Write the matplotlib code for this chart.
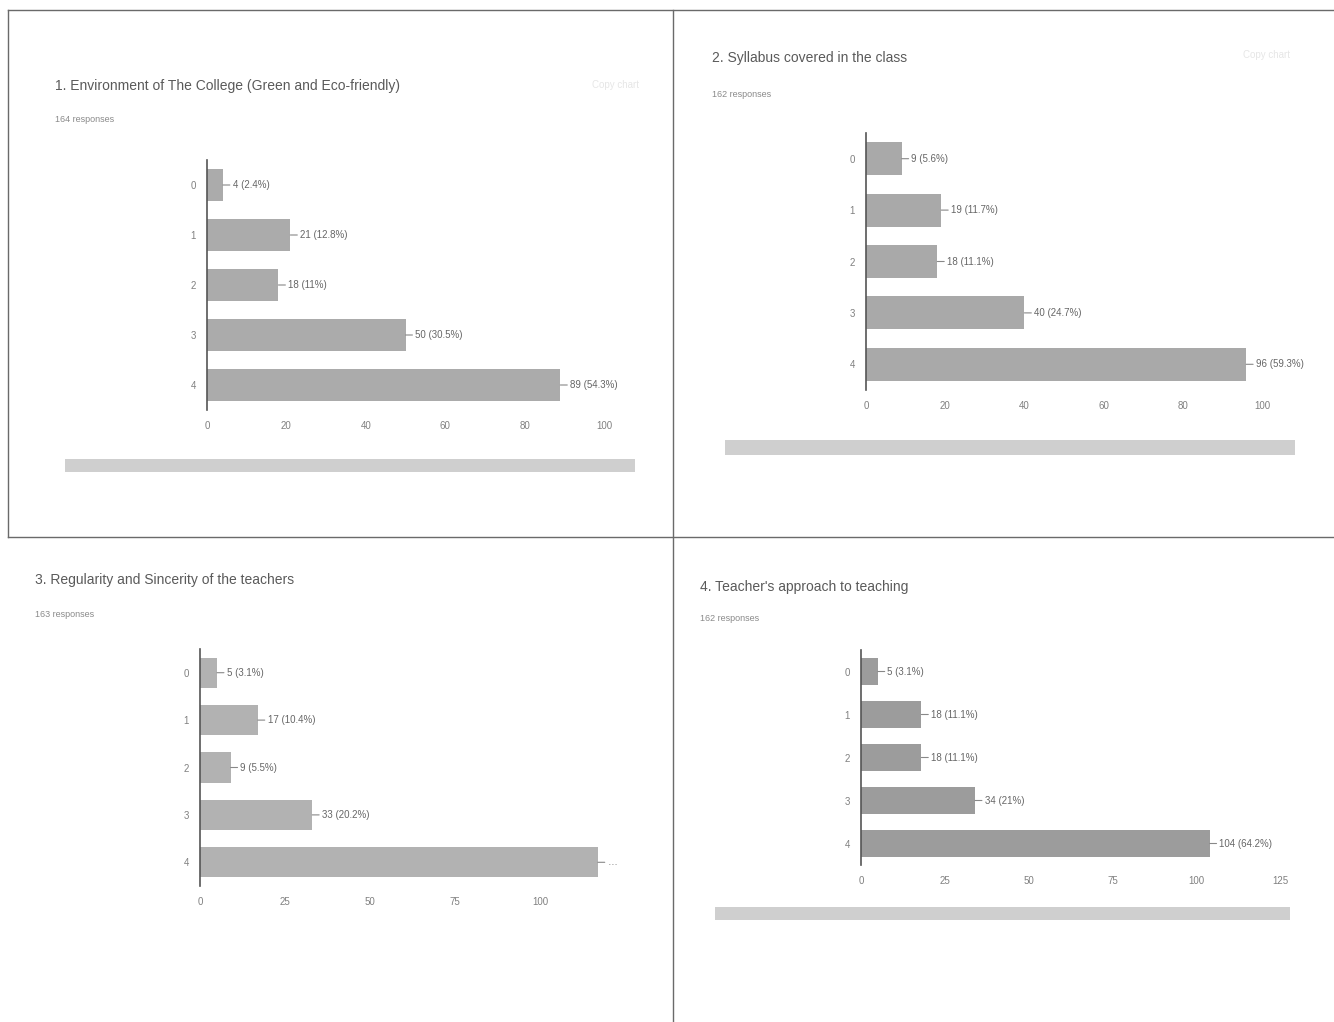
import numpy as np
import matplotlib
matplotlib.use("Agg")
import matplotlib.pyplot as plt
from matplotlib.lines import Line2D
from matplotlib.patches import Rectangle

plt.rcParams["font.family"] = ["Liberation Sans", "DejaVu Sans"]

W, H = 1334, 1022

# data
categories = ["0", "1", "2", "3", "4"]

titles = [
    "1. Environment of The College (Green and Eco-friendly)",
    "2. Syllabus covered in the class",
    "3. Regularity and Sincerity of the teachers",
    "4. Teacher's approach to teaching",
]
responses = ["164 responses", "162 responses", "163 responses", "162 responses"]

counts_1 = [4, 21, 18, 50, 89]
labels_1 = ["4 (2.4%)", "21 (12.8%)", "18 (11%)", "50 (30.5%)", "89 (54.3%)"]

counts_2 = [9, 19, 18, 40, 96]
labels_2 = ["9 (5.6%)", "19 (11.7%)", "18 (11.1%)", "40 (24.7%)", "96 (59.3%)"]

counts_3 = [5, 17, 9, 33, 117]
labels_3 = ["5 (3.1%)", "17 (10.4%)", "9 (5.5%)", "33 (20.2%)", ""]

counts_4 = [5, 18, 18, 34, 104]
labels_4 = ["5 (3.1%)", "18 (11.1%)", "18 (11.1%)", "34 (21%)", "104 (64.2%)"]

ticks_1 = [0, 20, 40, 60, 80, 100]
ticks_2 = [0, 20, 40, 60, 80, 100]
ticks_3 = [0, 25, 50, 75, 100]
ticks_4 = [0, 25, 50, 75, 100, 125]


def px_rect(x0, y0, x1, y1):
    # pixel box (top-left origin) -> figure fraction rect
    return [x0 / W, 1 - y1 / H, (x1 - x0) / W, (y1 - y0) / H]


fig = plt.figure(figsize=(W / 100, H / 100), dpi=100)
fig.patch.set_facecolor("white")

# panel frame lines of the scanned page
frame_col = "#6a6a6a"
fig.add_artist(Line2D([8 / W, 1], [1 - 10 / H] * 2, color=frame_col, lw=1))
fig.add_artist(Line2D([8 / W] * 2, [1 - 10 / H, 1 - 537 / H], color=frame_col, lw=1))
fig.add_artist(Line2D([673 / W] * 2, [1 - 10 / H, 0], color=frame_col, lw=1))
fig.add_artist(Line2D([8 / W, 1], [1 - 537 / H] * 2, color=frame_col, lw=1))


def panel(box, counts, labels, ticks, xmax, title, resp, title_xy, resp_xy, bar_col):
    ax = fig.add_axes(px_rect(*box))
    y = np.arange(len(categories))
    ax.barh(y, counts, height=0.64, color=bar_col, edgecolor="none")
    for yi, v, lab in zip(y, counts, labels):
        ax.annotate(lab if lab else "…", xy=(v, yi), xytext=(7, 0),
                    textcoords="offset points", va="center", ha="left",
                    fontsize=7, color="#666666", annotation_clip=False,
                    arrowprops=dict(arrowstyle="-", color="#888888", lw=0.8,
                                    shrinkA=0, shrinkB=0))
    ax.set_yticks(y)
    ax.set_yticklabels(categories)
    ax.set_ylim(len(categories) - 0.5, -0.5)
    ax.set_xlim(0, xmax)
    ax.set_xticks(ticks)
    ax.tick_params(length=0, labelsize=7, colors="#808080", pad=8)
    for s in ["top", "right", "bottom"]:
        ax.spines[s].set_visible(False)
    ax.spines["left"].set_color("#555555")
    ax.spines["left"].set_linewidth(1.2)
    ax.set_facecolor("none")
    fig.text(title_xy[0] / W, 1 - title_xy[1] / H, title, fontsize=10,
             color="#5a5a5a", va="center", ha="left")
    fig.text(resp_xy[0] / W, 1 - resp_xy[1] / H, resp, fontsize=6.5,
             color="#8a8a8a", va="center", ha="left")
    return ax


panel((207, 160, 604, 410), counts_1, labels_1, ticks_1, 100, titles[0],
      responses[0], (55, 86), (55, 120), "#ababab")
panel((866, 133, 1262, 390), counts_2, labels_2, ticks_2, 100, titles[1],
      responses[1], (712, 58), (712, 94), "#a9a9a9")
panel((200, 649, 608, 886), counts_3, labels_3, ticks_3, 120, titles[2],
      responses[2], (35, 580), (35, 614), "#b2b2b2")
panel((861, 650, 1280, 865), counts_4, labels_4, ticks_4, 125, titles[3],
      responses[3], (700, 587), (700, 618), "#9c9c9c")

# faint "Copy chart" buttons
for x, yy in [(592, 85), (1243, 55)]:
    fig.text(x / W, 1 - yy / H, "Copy chart", fontsize=7, color="#e6e6e6",
             va="center", ha="left")

# blurred scroll bars under the charts
for x0, y0, x1, y1 in [(65, 459, 635, 472), (725, 440, 1295, 455), (715, 907, 1290, 920)]:
    r = px_rect(x0, y0, x1, y1)
    fig.add_artist(Rectangle((r[0], r[1]), r[2], r[3], transform=fig.transFigure,
                             facecolor="#cfcfcf", edgecolor="none"))

fig.savefig("out.png", dpi=100, facecolor="white")
